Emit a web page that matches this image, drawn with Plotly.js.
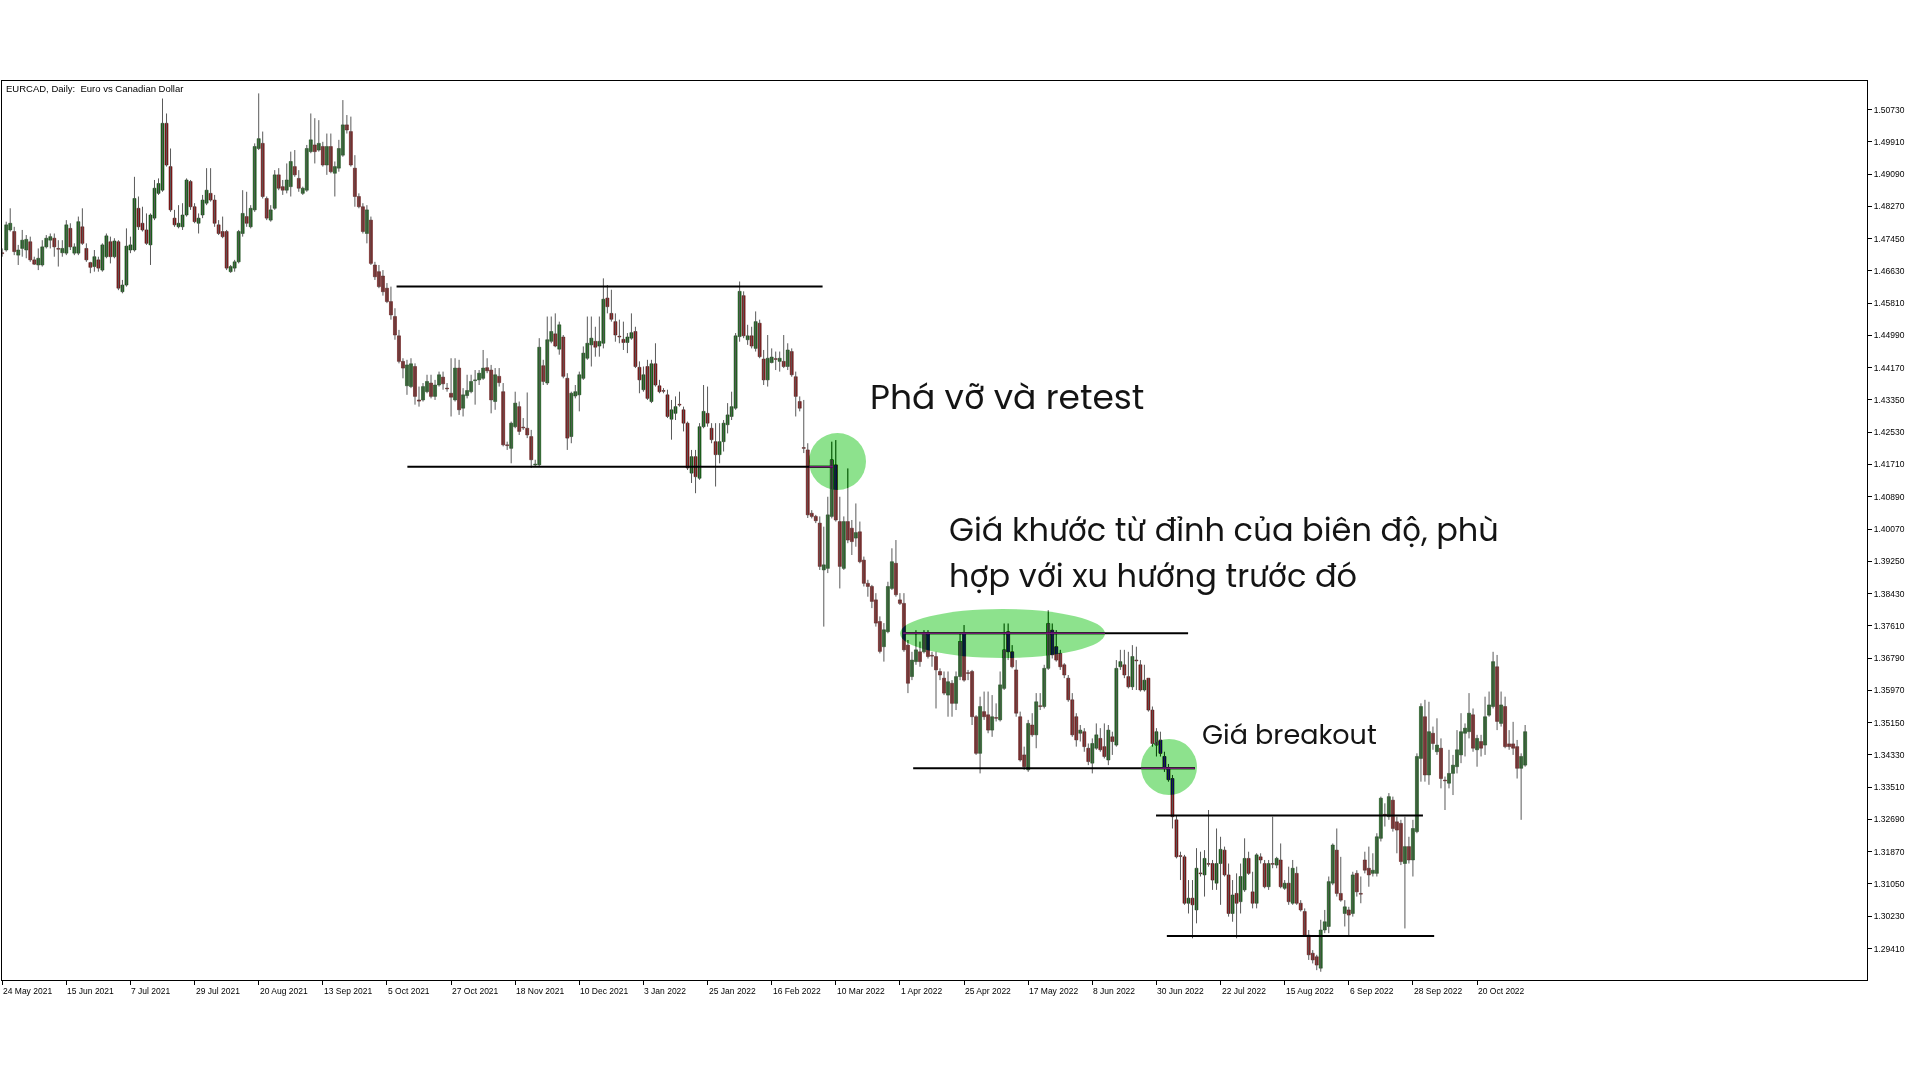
<!DOCTYPE html>
<html>
<head>
<meta charset="utf-8">
<script src="https://cdn.plot.ly/plotly-3.0.1.min.js"></script>
<style>
html,body{margin:0;padding:0;background:#ffffff;}
#chart{position:relative;width:1920px;height:1080px;}
.zone{position:absolute;border-radius:50%;background:rgb(114,29,114);mix-blend-mode:difference;pointer-events:none;}
</style>
</head>
<body>
<div id="chart"></div>
<script>
// ---- x-axis labels (one every 16 daily bars) ----
const tickLabels = ['24 May 2021','15 Jun 2021','7 Jul 2021','29 Jul 2021','20 Aug 2021','13 Sep 2021','5 Oct 2021','27 Oct 2021','18 Nov 2021','10 Dec 2021','3 Jan 2022','25 Jan 2022','16 Feb 2022','10 Mar 2022','1 Apr 2022','25 Apr 2022','17 May 2022','8 Jun 2022','30 Jun 2022','22 Jul 2022','15 Aug 2022','6 Sep 2022','28 Sep 2022','20 Oct 2022'];
const barsPerLabel = 16;

// ---- y-axis tick values ----
const priceTicks = [1.29410,1.30230,1.31050,1.31870,1.32690,1.33510,1.34330,1.35150,1.35970,1.36790,1.37610,1.38430,1.39250,1.40070,1.40890,1.41710,1.42530,1.43350,1.44170,1.44990,1.45810,1.46630,1.47450,1.48270,1.49090,1.49910,1.50730];

// ---- EURCAD daily OHLC ----
const openP = [
1.4708,1.4716,1.4767,1.4763,1.4703,1.4720,1.4716,1.4737,1.4691,1.4678,
1.4678,1.4724,1.4741,1.4746,1.4720,1.4709,1.4708,1.4771,1.4708,1.4708,
1.4775,1.4720,1.4684,1.4674,1.4691,1.4665,1.4699,1.4737,1.4699,1.4737,
1.4610,1.4627,1.4716,1.4716,1.4822,1.4784,1.4767,1.4729,1.4797,1.4860,
1.4868,1.5038,1.4928,1.4797,1.4775,1.4775,1.4805,1.4890,1.4826,1.4784,
1.4805,1.4835,1.4860,1.4843,1.4780,1.4763,1.4763,1.4661,1.4670,1.4686,
1.4758,1.4801,1.4775,1.4818,1.4974,1.4987,1.4847,1.4792,1.4822,1.4907,
1.4877,1.4868,1.4877,1.4928,1.4898,1.4860,1.4868,1.4966,1.4983,1.4970,
1.4979,1.4932,1.4979,1.4911,1.4924,1.4957,1.5034,1.5017,1.4924,1.4852,
1.4826,1.4758,1.4792,1.4678,1.4661,1.4650,1.4619,1.4585,1.4547,1.4498,
1.4433,1.4371,1.4369,1.4420,1.4335,1.4335,1.4356,1.4378,1.4344,1.4373,
1.4393,1.4365,1.4352,1.4335,1.4416,1.4314,1.4346,1.4356,1.4384,1.4386,
1.4390,1.4417,1.4411,1.4331,1.4395,1.4356,1.4220,1.4212,1.4267,1.4318,
1.4265,1.4263,1.4242,1.4170,1.4170,1.4422,1.4378,1.4484,1.4503,1.4464,
1.4495,1.4390,1.4242,1.4345,1.4348,1.4390,1.4441,1.4475,1.4484,1.4472,
1.4479,1.4594,1.4555,1.4534,1.4496,1.4489,1.4481,1.4492,1.4509,1.4418,
1.4361,1.4420,1.4331,1.4427,1.4371,1.4358,1.4348,1.4286,1.4301,1.4323,
1.4310,1.4276,1.4149,1.4191,1.4136,1.4267,1.4301,1.4263,1.4229,1.4196,
1.4229,1.4272,1.4293,1.4314,1.4496,1.4600,1.4488,1.4498,1.4466,1.4530,
1.4439,1.4386,1.4430,1.4439,1.4433,1.4433,1.4420,1.4458,1.4394,1.4331,
1.4213,1.4208,1.4047,1.4039,1.4022,1.3903,1.3907,1.4039,1.4170,1.4026,
1.3907,1.4026,1.4009,1.3984,1.4000,1.3928,1.3869,1.3861,1.3827,1.3772,
1.3708,1.3746,1.3856,1.3920,1.3827,1.3818,1.3712,1.3632,1.3670,1.3695,
1.3695,1.3742,1.3685,1.3683,1.3645,1.3628,1.3585,1.3615,1.3564,1.3632,
1.3742,1.3641,1.3645,1.3530,1.3437,1.3543,1.3535,1.3496,1.3527,1.3522,
1.3602,1.3746,1.3695,1.3649,1.3530,1.3433,1.3395,1.3509,1.3484,1.3557,
1.3556,1.3653,1.3750,1.3708,1.3691,1.3662,1.3628,1.3573,1.3530,1.3488,
1.3492,1.3450,1.3412,1.3450,1.3475,1.3454,1.3420,1.3479,1.3458,1.3657,
1.3662,1.3632,1.3606,1.3673,1.3662,1.3598,1.3628,1.3547,1.3458,1.3471,
1.3429,1.3400,1.3373,1.3268,1.3176,1.3174,1.3056,1.3069,1.3039,1.3132,
1.3128,1.3156,1.3157,1.3107,1.3157,1.3191,1.3128,1.3030,1.3081,1.3060,
1.3090,1.3170,1.3085,1.3056,1.3174,1.3157,1.3098,1.3156,1.3153,1.3166,
1.3094,1.3107,1.3056,1.3132,1.3056,1.3035,1.2975,1.2929,1.2920,1.2891,
1.2988,1.2997,1.3107,1.3191,1.3081,1.3030,1.3039,1.3030,1.3132,1.3080,
1.3166,1.3145,1.3132,1.3132,1.3221,1.3281,1.3276,1.3318,1.3263,1.3259,
1.3157,1.3200,1.3166,1.3238,1.3424,1.3530,1.3382,1.3488,1.3441,1.3450,
1.3368,1.3361,1.3386,1.3403,1.3433,1.3488,1.3492,1.3535,1.3446,1.3467,
1.3458,1.3534,1.3556,1.3657,1.3513,1.3556,1.3461,1.3461,1.3454,1.3399,1.3407];

const highP = [
1.4720,1.4788,1.4822,1.4775,1.4729,1.4767,1.4754,1.4750,1.4699,1.4720,
1.4741,1.4754,1.4758,1.4758,1.4741,1.4741,1.4792,1.4784,1.4733,1.4801,
1.4822,1.4733,1.4686,1.4716,1.4699,1.4733,1.4758,1.4750,1.4746,1.4741,
1.4640,1.4771,1.4750,1.4902,1.4852,1.4826,1.4809,1.4809,1.4894,1.4898,
1.5101,1.5063,1.4974,1.4818,1.4830,1.4835,1.4898,1.4894,1.4835,1.4809,
1.4856,1.4924,1.4924,1.4856,1.4792,1.4801,1.4767,1.4678,1.4691,1.4767,
1.4868,1.4864,1.4830,1.4987,1.5114,1.5017,1.4852,1.4830,1.4919,1.4924,
1.4894,1.4936,1.4966,1.4970,1.4919,1.4877,1.4983,1.5063,1.5051,1.5046,
1.4991,1.5012,1.5012,1.4941,1.4996,1.5097,1.5059,1.5055,1.4957,1.4860,
1.4835,1.4830,1.4801,1.4686,1.4678,1.4665,1.4632,1.4623,1.4568,1.4513,
1.4441,1.4437,1.4441,1.4428,1.4369,1.4378,1.4399,1.4399,1.4386,1.4407,
1.4407,1.4378,1.4441,1.4441,1.4437,1.4365,1.4399,1.4399,1.4411,1.4411,
1.4462,1.4441,1.4424,1.4416,1.4416,1.4378,1.4229,1.4280,1.4356,1.4331,
1.4289,1.4354,1.4259,1.4183,1.4492,1.4437,1.4547,1.4547,1.4555,1.4534,
1.4500,1.4403,1.4356,1.4373,1.4407,1.4471,1.4547,1.4547,1.4521,1.4547,
1.4644,1.4627,1.4615,1.4555,1.4539,1.4534,1.4505,1.4555,1.4521,1.4433,
1.4420,1.4437,1.4437,1.4479,1.4386,1.4365,1.4361,1.4335,1.4344,1.4356,
1.4318,1.4280,1.4208,1.4208,1.4276,1.4373,1.4369,1.4276,1.4276,1.4276,
1.4284,1.4327,1.4356,1.4505,1.4636,1.4611,1.4526,1.4521,1.4560,1.4539,
1.4462,1.4500,1.4466,1.4458,1.4458,1.4500,1.4479,1.4466,1.4407,1.4344,
1.4335,1.4225,1.4055,1.4043,1.4039,1.4013,1.4089,1.4229,1.4233,1.4089,
1.4039,1.4161,1.4030,1.4072,1.4026,1.3937,1.3878,1.3865,1.3844,1.3785,
1.3768,1.3873,1.3958,1.3979,1.3844,1.3844,1.3725,1.3695,1.3750,1.3721,
1.3750,1.3750,1.3695,1.3695,1.3653,1.3645,1.3645,1.3623,1.3645,1.3742,
1.3763,1.3649,1.3649,1.3534,1.3581,1.3594,1.3594,1.3585,1.3564,1.3645,
1.3767,1.3767,1.3712,1.3674,1.3543,1.3454,1.3522,1.3539,1.3590,1.3590,
1.3662,1.3801,1.3767,1.3750,1.3700,1.3666,1.3636,1.3590,1.3539,1.3509,
1.3501,1.3462,1.3475,1.3513,1.3501,1.3513,1.3509,1.3492,1.3674,1.3700,
1.3700,1.3695,1.3712,1.3708,1.3674,1.3662,1.3628,1.3556,1.3501,1.3492,
1.3441,1.3410,1.3382,1.3280,1.3187,1.3179,1.3115,1.3115,1.3196,1.3187,
1.3191,1.3293,1.3166,1.3246,1.3225,1.3200,1.3157,1.3115,1.3132,1.3157,
1.3221,1.3187,1.3136,1.3183,1.3183,1.3166,1.3166,1.3276,1.3174,1.3208,
1.3115,1.3149,1.3166,1.3149,1.3064,1.3043,1.2988,1.2937,1.2925,1.3014,
1.3039,1.3124,1.3208,1.3246,1.3174,1.3064,1.3047,1.3136,1.3140,1.3124,
1.3187,1.3200,1.3183,1.3234,1.3327,1.3310,1.3336,1.3327,1.3276,1.3268,
1.3276,1.3225,1.3268,1.3437,1.3564,1.3573,1.3568,1.3505,1.3526,1.3475,
1.3378,1.3446,1.3433,1.3496,1.3539,1.3513,1.3590,1.3551,1.3484,1.3484,
1.3581,1.3594,1.3695,1.3687,1.3594,1.3581,1.3496,1.3517,1.3471,1.3437,1.3509];

const lowP = [
1.4699,1.4712,1.4763,1.4703,1.4678,1.4699,1.4695,1.4686,1.4678,1.4665,
1.4674,1.4720,1.4720,1.4699,1.4674,1.4699,1.4703,1.4716,1.4703,1.4703,
1.4729,1.4686,1.4657,1.4661,1.4661,1.4661,1.4695,1.4682,1.4695,1.4614,
1.4606,1.4623,1.4708,1.4712,1.4767,1.4763,1.4729,1.4678,1.4792,1.4856,
1.4864,1.4928,1.4813,1.4775,1.4771,1.4767,1.4801,1.4818,1.4784,1.4758,
1.4797,1.4830,1.4839,1.4775,1.4754,1.4746,1.4665,1.4658,1.4661,1.4682,
1.4750,1.4775,1.4771,1.4813,1.4970,1.4847,1.4792,1.4788,1.4818,1.4868,
1.4856,1.4860,1.4852,1.4902,1.4864,1.4856,1.4864,1.4962,1.4936,1.4966,
1.4928,1.4907,1.4911,1.4852,1.4915,1.4953,1.5012,1.4928,1.4826,1.4822,
1.4758,1.4733,1.4678,1.4640,1.4619,1.4600,1.4581,1.4539,1.4488,1.4428,
1.4390,1.4348,1.4365,1.4323,1.4318,1.4331,1.4352,1.4339,1.4335,1.4369,
1.4361,1.4356,1.4293,1.4331,1.4297,1.4293,1.4339,1.4352,1.4323,1.4373,
1.4386,1.4403,1.4301,1.4310,1.4369,1.4217,1.4208,1.4174,1.4263,1.4246,
1.4259,1.4238,1.4162,1.4166,1.4166,1.4373,1.4373,1.4479,1.4469,1.4450,
1.4390,1.4208,1.4225,1.4339,1.4306,1.4386,1.4437,1.4420,1.4445,1.4445,
1.4466,1.4555,1.4534,1.4483,1.4479,1.4462,1.4454,1.4488,1.4416,1.4352,
1.4356,1.4335,1.4327,1.4369,1.4352,1.4352,1.4289,1.4234,1.4284,1.4318,
1.4255,1.4157,1.4124,1.4098,1.4132,1.4263,1.4267,1.4225,1.4115,1.4174,
1.4204,1.4250,1.4284,1.4310,1.4483,1.4492,1.4475,1.4466,1.4458,1.4441,
1.4373,1.4369,1.4428,1.4411,1.4407,1.4416,1.4411,1.4394,1.4293,1.4306,
1.4200,1.4035,1.4034,1.4022,1.3903,1.3759,1.3895,1.4034,1.4026,1.3856,
1.3903,1.3971,1.3941,1.3962,1.3920,1.3861,1.3835,1.3806,1.3759,1.3691,
1.3670,1.3742,1.3852,1.3835,1.3814,1.3695,1.3590,1.3623,1.3662,1.3657,
1.3691,1.3678,1.3657,1.3551,1.3623,1.3585,1.3530,1.3530,1.3547,1.3623,
1.3619,1.3623,1.3509,1.3433,1.3386,1.3522,1.3488,1.3479,1.3518,1.3518,
1.3598,1.3674,1.3653,1.3530,1.3416,1.3395,1.3390,1.3479,1.3450,1.3547,
1.3551,1.3649,1.3678,1.3670,1.3649,1.3628,1.3568,1.3479,1.3454,1.3467,
1.3441,1.3407,1.3386,1.3446,1.3441,1.3424,1.3407,1.3433,1.3454,1.3649,
1.3628,1.3602,1.3598,1.3598,1.3594,1.3594,1.3543,1.3454,1.3429,1.3429,
1.3390,1.3365,1.3246,1.3170,1.3115,1.3052,1.3030,1.2967,1.3005,1.3124,
1.3073,1.3149,1.3090,1.3090,1.3052,1.3124,1.3022,1.3009,1.2967,1.3030,
1.3085,1.3128,1.3043,1.3043,1.3157,1.3094,1.3090,1.3145,1.3145,1.3094,
1.3090,1.3052,1.3052,1.3052,1.3035,1.2971,1.2912,1.2903,1.2886,1.2882,
1.2980,1.2980,1.3102,1.3073,1.3060,1.2997,1.2975,1.3022,1.3073,1.3056,
1.3132,1.3098,1.3124,1.3124,1.3213,1.3251,1.3268,1.3238,1.3183,1.3153,
1.2992,1.3157,1.3124,1.3234,1.3365,1.3365,1.3357,1.3446,1.3433,1.3348,
1.3293,1.3348,1.3331,1.3386,1.3412,1.3429,1.3475,1.3441,1.3403,1.3429,
1.3433,1.3530,1.3551,1.3496,1.3505,1.3450,1.3446,1.3433,1.3373,1.3268,1.3403];

const closeP = [
1.4707,1.4780,1.4784,1.4712,1.4716,1.4741,1.4743,1.4691,1.4680,1.4695,
1.4724,1.4746,1.4750,1.4724,1.4718,1.4720,1.4780,1.4724,1.4724,1.4788,
1.4733,1.4691,1.4672,1.4699,1.4670,1.4729,1.4752,1.4699,1.4739,1.4619,
1.4627,1.4726,1.4729,1.4847,1.4775,1.4767,1.4733,1.4805,1.4873,1.4885,
1.5038,1.4932,1.4818,1.4780,1.4784,1.4805,1.4894,1.4826,1.4788,1.4797,
1.4843,1.4868,1.4843,1.4784,1.4758,1.4750,1.4670,1.4674,1.4686,1.4763,
1.4809,1.4784,1.4822,1.4979,1.4999,1.4852,1.4797,1.4818,1.4907,1.4873,
1.4868,1.4894,1.4941,1.4907,1.4873,1.4873,1.4974,1.4996,1.4966,1.4987,
1.4932,1.4979,1.4915,1.4928,1.4974,1.5034,1.5021,1.4932,1.4852,1.4826,
1.4763,1.4818,1.4682,1.4648,1.4623,1.4610,1.4585,1.4551,1.4500,1.4433,
1.4416,1.4424,1.4427,1.4344,1.4332,1.4369,1.4382,1.4344,1.4373,1.4399,
1.4376,1.4363,1.4342,1.4416,1.4310,1.4348,1.4359,1.4382,1.4386,1.4403,
1.4416,1.4409,1.4335,1.4399,1.4379,1.4221,1.4219,1.4276,1.4327,1.4255,
1.4264,1.4246,1.4183,1.4171,1.4469,1.4382,1.4488,1.4509,1.4472,1.4526,
1.4395,1.4238,1.4352,1.4356,1.4399,1.4454,1.4479,1.4492,1.4469,1.4484,
1.4591,1.4572,1.4540,1.4500,1.4495,1.4481,1.4495,1.4506,1.4420,1.4386,
1.4399,1.4339,1.4427,1.4373,1.4356,1.4357,1.4293,1.4310,1.4318,1.4322,
1.4276,1.4162,1.4191,1.4140,1.4267,1.4306,1.4276,1.4234,1.4196,1.4229,
1.4276,1.4297,1.4318,1.4498,1.4611,1.4498,1.4498,1.4472,1.4534,1.4445,
1.4386,1.4441,1.4444,1.4438,1.4441,1.4420,1.4462,1.4399,1.4344,1.4314,
1.4212,1.4043,1.4039,1.4028,1.3912,1.3916,1.4043,1.4183,1.4030,1.3912,
1.4026,1.3979,1.3975,1.3998,1.3924,1.3869,1.3861,1.3823,1.3768,1.3696,
1.3751,1.3861,1.3924,1.3840,1.3818,1.3700,1.3615,1.3674,1.3700,1.3670,
1.3742,1.3683,1.3684,1.3649,1.3636,1.3590,1.3619,1.3564,1.3632,1.3721,
1.3623,1.3640,1.3530,1.3437,1.3556,1.3530,1.3496,1.3530,1.3526,1.3611,
1.3700,1.3695,1.3657,1.3539,1.3420,1.3403,1.3513,1.3484,1.3568,1.3556,
1.3653,1.3767,1.3687,1.3674,1.3657,1.3636,1.3573,1.3484,1.3471,1.3496,
1.3454,1.3416,1.3462,1.3484,1.3446,1.3429,1.3496,1.3467,1.3653,1.3670,
1.3636,1.3606,1.3683,1.3672,1.3598,1.3623,1.3547,1.3462,1.3492,1.3437,
1.3399,1.3370,1.3276,1.3174,1.3175,1.3056,1.3069,1.3052,1.3145,1.3131,
1.3170,1.3155,1.3115,1.3157,1.3193,1.3128,1.3030,1.3077,1.3056,1.3124,
1.3170,1.3132,1.3056,1.3179,1.3166,1.3098,1.3157,1.3155,1.3170,1.3098,
1.3107,1.3060,1.3145,1.3056,1.3039,1.2975,1.2925,1.2912,1.2899,1.2988,
1.3009,1.3111,1.3204,1.3081,1.3064,1.3047,1.3026,1.3128,1.3085,1.3079,
1.3140,1.3128,1.3140,1.3225,1.3323,1.3280,1.3327,1.3246,1.3242,1.3162,
1.3200,1.3166,1.3246,1.3429,1.3556,1.3382,1.3492,1.3462,1.3458,1.3373,
1.3367,1.3386,1.3407,1.3446,1.3492,1.3501,1.3539,1.3450,1.3475,1.3450,
1.3530,1.3560,1.3670,1.3518,1.3560,1.3454,1.3454,1.3450,1.3399,1.3429,1.3492];

// ---- drawn support / resistance levels (price, from bar, to bar) ----
const levelPrice = [1.4623, 1.4165, 1.3742, 1.3399, 1.3279, 1.2973];
const levelFrom  = [98.4, 101.1, 224.8, 227.3, 287.9, 290.6];
const levelTo    = [204.7, 207.3, 295.9, 297.6, 354.5, 357.3];

// ---- highlighted zones (ellipses) ----
const zoneX0 = [201.3, 224.0, 284.1];
const zoneX1 = [215.5, 275.2, 298.1];
const zoneY0 = [1.4106, 1.3679, 1.3331];
const zoneY1 = [1.4251, 1.3804, 1.3473];

// ---- text notes ----
const noteText  = ['Phá vỡ và retest', 'Giá khước từ đỉnh của biên độ, phù', 'hợp với xu hướng trước đó', 'Giá breakout'];
const noteBar   = [216.4, 236.0, 236.0, 299.2];
const notePrice = [1.4343, 1.4005, 1.3888, 1.3486];
const noteSize  = [34.5, 32, 32, 27];

// ================= build =================
const idx = openP.map((_, i) => i);
const wx = [], wy = [];
idx.forEach(i => { wx.push(i, i, null); wy.push(lowP[i], highP[i], null); });

const upIdx = idx.filter(i => closeP[i] >= openP[i]);
const dnIdx = idx.filter(i => closeP[i] < openP[i]);
const minBody = 0.0002;
function bodies(ids, fill, edge) {
  return {
    type: 'bar', x: ids,
    base: ids.map(i => Math.min(openP[i], closeP[i])),
    y: ids.map(i => Math.max(Math.abs(closeP[i] - openP[i]), minBody)),
    width: 0.76,
    marker: {color: fill, line: {color: edge, width: 0.5}},
    hoverinfo: 'skip'
  };
}

const traces = [
  {type: 'scatter', mode: 'lines', x: wx, y: wy, connectgaps: false,
   line: {color: '#5a5a5a', width: 1}, hoverinfo: 'skip'},
  bodies(upIdx, '#1d691d', '#0c3a0c'),
  bodies(dnIdx, '#8a1b1b', '#4a0b0b')
];

const shapes = levelPrice.map((p, k) => ({
  type: 'line', xref: 'x', yref: 'y', x0: levelFrom[k], x1: levelTo[k], y0: p, y1: p,
  line: {color: '#000000', width: 2}, layer: 'above'
}));

const tickVals = tickLabels.map((_, k) => k * barsPerLabel);
const annotations = [];
tickLabels.forEach((t, k) => annotations.push({
  xref: 'x', yref: 'paper', x: tickVals[k], y: -0.0118, xanchor: 'left', yanchor: 'middle',
  text: t, showarrow: false, borderpad: 0,
  font: {family: 'Liberation Sans, Arial, sans-serif', size: 8.5, color: '#000'}
}));
noteText.forEach((t, k) => annotations.push({
  xref: 'x', yref: 'y', x: noteBar[k], y: notePrice[k], xanchor: 'left', yanchor: 'middle',
  text: t, showarrow: false, align: 'left', borderpad: 0,
  font: {family: 'Poppins, Inter, "Open Sans", sans-serif', size: noteSize[k], color: '#141414'}
}));

const layout = {
  width: 1920, height: 1080,
  paper_bgcolor: '#ffffff', plot_bgcolor: '#ffffff',
  margin: {l: 2, r: 53, t: 81, b: 100, pad: 0},
  showlegend: false, barmode: 'overlay', hovermode: false,
  title: {
    text: 'EURCAD, Daily:\u00a0 Euro vs Canadian Dollar',
    xref: 'container', yref: 'container', x: 6 / 1920, xanchor: 'left',
    y: 1 - 89 / 1080, yanchor: 'middle', pad: {t: 0, b: 0, l: 0, r: 0},
    font: {family: 'Liberation Sans, Arial, sans-serif', size: 9.5, color: '#000'}
  },
  xaxis: {
    range: [-0.05, 465.3], showgrid: false, zeroline: false,
    showline: true, mirror: true, linecolor: '#000', linewidth: 1,
    ticks: 'outside', ticklen: 4, tickwidth: 1, tickcolor: '#000',
    tickmode: 'array', tickvals: tickVals, showticklabels: false, fixedrange: true
  },
  yaxis: {
    side: 'right', range: [1.28610, 1.51455], showgrid: false, zeroline: false,
    showline: true, mirror: true, linecolor: '#000', linewidth: 1,
    ticks: 'outside', ticklen: 4, tickwidth: 1, tickcolor: '#000',
    tickmode: 'array', tickvals: priceTicks, tickformat: '.5f',
    tickfont: {family: 'Liberation Sans, Arial, sans-serif', size: 8.5, color: '#000'},
    fixedrange: true
  },
  shapes: shapes,
  annotations: annotations
};

const gd = document.getElementById('chart');
Plotly.newPlot(gd, traces, layout, {displayModeBar: false, staticPlot: true}).then(() => {
  // highlight zones placed with the chart's own axis scales
  const xa = gd._fullLayout.xaxis, ya = gd._fullLayout.yaxis;
  zoneX0.forEach((x0, k) => {
    const left = xa._offset + xa.l2p(x0);
    const right = xa._offset + xa.l2p(zoneX1[k]);
    const top = ya._offset + ya.l2p(zoneY1[k]);
    const bottom = ya._offset + ya.l2p(zoneY0[k]);
    const d = document.createElement('div');
    d.className = 'zone';
    d.style.left = left + 'px';
    d.style.top = top + 'px';
    d.style.width = (right - left) + 'px';
    d.style.height = (bottom - top) + 'px';
    gd.appendChild(d);
  });
});
</script>
</body>
</html>
